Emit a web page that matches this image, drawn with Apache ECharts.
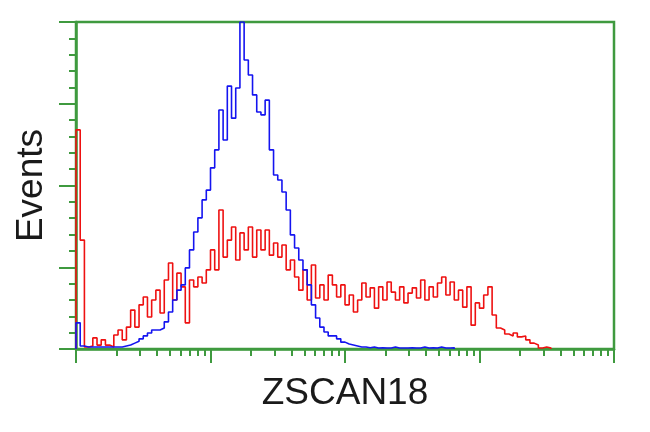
<!DOCTYPE html>
<html>
<head>
<meta charset="utf-8">
<script src="https://cdn.jsdelivr.net/npm/echarts@6/dist/echarts.min.js"></script>
<style>html,body{margin:0;padding:0;background:#fff}#c{width:650px;height:432px}</style>
</head>
<body>
<div id="c"></div>
<script>
// x axis: log10 of fluorescence (4 decades), histogram bins of 1/32 decade
const binsPerDecade = 32;
const decades = [0, 1, 2, 3, 4];
const minorMultipliers = [2, 3, 4, 5, 6, 7, 8, 9];
const xAxisName = 'ZSCAN18';
const yAxisName = 'Events';
const yMax = 100;
const yInterval = 25;

// Negative control (blue), counts per bin (percent of max)
const blueCounts = [
  8.0, 0.9, 0.6, 0.6, 0.6, 0.6, 0.6, 0.6, 0.6, 0.6,
  0.6, 0.9, 1.2, 1.8, 2.4, 3.1, 4.0, 4.9, 5.8, 5.8,
  6.4, 8.3, 11.3, 15.0, 18.0, 19.6, 24.8, 30.3, 35.8, 40.1,
  45.6, 48.6, 55.4, 60.9, 73.1, 63.9, 80.4, 70.6, 79.8, 100,
  88.4, 83.8, 77.7, 72.5, 71.6, 76.1, 60.9, 53.2, 51.7, 48.0,
  42.5, 34.9, 30.9, 27.2, 24.2, 19.6, 13.5, 9.5, 6.7, 5.2,
  4.0, 4.0, 3.1, 2.1, 1.5, 1.2, 0.9, 0.6, 0.6, 0.4,
  0.6, 0.3, 0.4, 0.3, 0.3, 0.6, 0.3, 0.3, 0.3, 0.4,
  0.3, 0.3, 0.6, 0.3, 0.4, 0.3, 0.6, 0.3, 0.3, 0.4,
  0
];

// ZSCAN18 transfected (red), counts per bin
const redCounts = [
  67.0, 33.3, 0.6, 0.9, 3.4, 1.2, 2.8, 1.2, 0.6, 4.3,
  5.8, 2.8, 6.7, 11.9, 6.7, 13.5, 15.9, 9.8, 15.0, 18.0,
  11.0, 21.1, 26.3, 15.0, 23.2, 19.0, 8.0, 21.1, 19.0, 22.0,
  20.2, 24.2, 30.3, 24.2, 42.5, 28.1, 33.3, 37.3, 27.2, 35.5,
  30.3, 37.3, 28.1, 36.4, 30.3, 36.4, 28.7, 32.4, 28.1, 31.8,
  24.2, 27.2, 22.0, 18.0, 24.2, 15.0, 25.7, 15.6, 19.6, 15.0,
  22.6, 19.6, 15.9, 19.6, 13.5, 16.5, 11.3, 15.0, 20.2, 15.9,
  18.7, 12.5, 19.0, 15.0, 20.5, 17.4, 15.0, 19.0, 14.1, 17.1,
  18.7, 15.6, 21.1, 15.0, 19.0, 15.9, 20.2, 22.0, 16.5, 20.5,
  15.0, 18.0, 12.8, 19.0, 7.3, 14.1, 12.5, 16.5, 19.0, 10.4,
  6.4, 5.8, 4.6, 4.0, 4.9, 3.7, 4.0, 2.8, 1.8, 1.2,
  0.3, 0.6, 0.3, 0
];

const green = '#3f9a3f';

function toSteps(counts) {
  const pts = [[0, 0]];
  counts.forEach((v, i) => pts.push([i / binsPerDecade, v]));
  return pts;
}

const minorTicks = [];
decades.slice(0, -1).forEach(d => minorMultipliers.forEach(m => minorTicks.push(d + Math.log10(m))));

const chart = echarts.init(document.getElementById('c'), null, {renderer: 'canvas'});
chart.setOption({
  animation: false,
  backgroundColor: '#ffffff',
  grid: {
    left: 76, right: 36, top: 22, bottom: 83,
    show: true, borderColor: green, borderWidth: 2.5, backgroundColor: 'transparent'
  },
  xAxis: [
    {
      type: 'value', min: 0, max: 4,
      name: xAxisName, nameLocation: 'middle', nameGap: 26,
      nameTextStyle: {fontFamily: 'Liberation Sans, Arial, sans-serif', fontSize: 37, color: '#1a1a1a'},
      axisLine: {show: true, lineStyle: {color: green, width: 2.5}},
      axisTick: {show: true, length: 14, customValues: decades, lineStyle: {color: green, width: 2}},
      axisLabel: {show: false},
      splitLine: {show: false}
    },
    {
      type: 'value', min: 0, max: 4, position: 'bottom',
      axisLine: {show: false},
      axisTick: {show: true, length: 7, customValues: minorTicks, lineStyle: {color: green, width: 2}},
      axisLabel: {show: false},
      splitLine: {show: false}
    }
  ],
  yAxis: {
    type: 'value', min: 0, max: yMax, interval: yInterval,
    name: yAxisName, nameLocation: 'middle', nameGap: 26,
    nameTextStyle: {fontFamily: 'Liberation Sans, Arial, sans-serif', fontSize: 37, color: '#1a1a1a'},
    axisLine: {show: true, lineStyle: {color: green, width: 2.5}},
    axisTick: {show: true, length: 17, lineStyle: {color: green, width: 2}},
    minorTick: {show: true, splitNumber: 5, length: 7, lineStyle: {color: green, width: 2}},
    axisLabel: {show: false},
    splitLine: {show: false}
  },
  series: [
    {
      type: 'line', step: 'end', data: toSteps(redCounts), symbol: 'none',
      lineStyle: {color: '#ee1111', width: 1.6}, z: 3
    },
    {
      type: 'line', step: 'end', data: toSteps(blueCounts), symbol: 'none',
      lineStyle: {color: '#1414f0', width: 1.6}, z: 4
    }
  ]
});
</script>
</body>
</html>
